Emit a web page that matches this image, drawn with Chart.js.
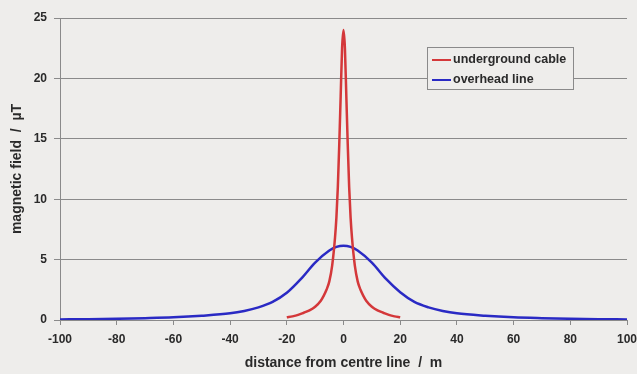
<!DOCTYPE html>
<html>
<head>
<meta charset="utf-8">
<script src="https://cdn.jsdelivr.net/npm/chart.js@4"></script>
<style>
html,body{margin:0;padding:0;background:#eeedeb;}
#wrap{width:637px;height:374px;position:relative;}
</style>
</head>
<body>
<div id="wrap"><canvas id="c" width="637" height="374"></canvas></div>
<script>
// ---- data ----
const seriesNames = ["underground cable", "overhead line"];
const xTicks = [-100, -80, -60, -40, -20, 0, 20, 40, 60, 80, 100];
const yTicks = [0, 5, 10, 15, 20, 25];

const cableX = [-20, -18, -16, -14, -12, -10, -8, -7, -6, -5, -4, -3, -2.5, -2, -1.5, -1, -0.5, 0, 0.5, 1, 1.5, 2, 2.5, 3, 4, 5, 6, 7, 8, 10, 12, 14, 16, 18, 20];
const cableY = [0.22, 0.3, 0.42, 0.6, 0.8, 1.1, 1.6, 2.0, 2.5, 3.2, 4.5, 6.8, 8.5, 11, 14.5, 18.5, 22.5, 24, 22.5, 18.5, 14.5, 11, 8.5, 6.8, 4.5, 3.2, 2.5, 2.0, 1.6, 1.1, 0.8, 0.6, 0.42, 0.3, 0.22];

const lineX = [-100, -90, -80, -70, -60, -50, -40, -35, -30, -25, -20, -15, -10, -5, -2.5, 0, 2.5, 5, 10, 15, 20, 25, 30, 35, 40, 50, 60, 70, 80, 90, 100];
const lineY = [0.05, 0.07, 0.1, 0.15, 0.22, 0.35, 0.55, 0.75, 1.05, 1.5, 2.25, 3.4, 4.75, 5.75, 6.05, 6.15, 6.05, 5.75, 4.75, 3.4, 2.3, 1.5, 1.05, 0.75, 0.55, 0.35, 0.22, 0.15, 0.1, 0.07, 0.05];

const axisTitleX = "distance from centre line  /  m";
const axisTitleY = "magnetic field  /  µT";

const toPts = (xs, ys) => xs.map((x, i) => ({x: x, y: ys[i]}));

const FONT = "'Liberation Sans', Arial, sans-serif";
const BG = "#eeedeb";
const TXT = "#2a2a2a";

const bgPlugin = {
  id: 'bg',
  beforeDraw(chart) {
    const ctx = chart.ctx;
    ctx.save();
    ctx.fillStyle = BG;
    ctx.fillRect(0, 0, chart.width, chart.height);
    ctx.restore();
  }
};

const legendBox = {
  id: 'legendBox',
  afterDatasetsDraw(chart) {
    const ctx = chart.ctx;
    const x0 = 427, y0 = 47, w = 146, h = 42;
    ctx.save();
    ctx.fillStyle = BG;
    ctx.fillRect(x0, y0, w, h);
    ctx.strokeStyle = "#8a8a8a";
    ctx.lineWidth = 1;
    ctx.strokeRect(x0 + 0.5, y0 + 0.5, w, h);
    ctx.font = "bold 12.5px " + FONT;
    ctx.textBaseline = "middle";
    ctx.textAlign = "left";
    chart.data.datasets.forEach((ds, i) => {
      const yy = y0 + 13 + i * 20;
      ctx.strokeStyle = ds.borderColor;
      ctx.lineWidth = 2;
      ctx.beginPath();
      ctx.moveTo(x0 + 5, yy);
      ctx.lineTo(x0 + 24, yy);
      ctx.stroke();
      ctx.fillStyle = TXT;
      ctx.fillText(ds.label, x0 + 26, yy);
    });
    ctx.restore();
  }
};

new Chart(document.getElementById('c'), {
  type: 'line',
  data: {
    datasets: [
      {
        label: seriesNames[0],
        data: toPts(cableX, cableY),
        borderColor: "#d4383a",
        borderWidth: 2.5,
        pointRadius: 0,
        cubicInterpolationMode: 'monotone',
        fill: false
      },
      {
        label: seriesNames[1],
        data: toPts(lineX, lineY),
        borderColor: "#2a2ac4",
        borderWidth: 2.5,
        pointRadius: 0,
        cubicInterpolationMode: 'monotone',
        fill: false
      }
    ]
  },
  options: {
    responsive: false,
    animation: false,
    events: [],
    layout: { padding: { top: 18, right: 10, left: 0, bottom: 0 } },
    plugins: {
      legend: { display: false },
      tooltip: { enabled: false }
    },
    scales: {
      x: {
        type: 'linear',
        min: -100, max: 100,
        afterBuildTicks: s => { s.ticks = xTicks.map(v => ({value: v})); },
        afterFit: s => { s.height = 54; s.paddingLeft = 0; s.paddingRight = 0; },
        grid: { display: true, drawOnChartArea: false, drawTicks: true, tickLength: 5, color: "#8a8a8a" },
        border: { display: true, color: "#8a8a8a", width: 1 },
        ticks: { font: { family: FONT, size: 12, weight: 'bold' }, color: TXT, padding: 7, maxRotation: 0, autoSkip: false },
        title: { display: true, text: axisTitleX, font: { family: FONT, size: 14, weight: 'bold' }, color: TXT, padding: { top: 0, bottom: 2 } }
      },
      y: {
        type: 'linear',
        min: 0, max: 25,
        afterBuildTicks: s => { s.ticks = yTicks.map(v => ({value: v})); },
        afterFit: s => { s.width = 60; s.paddingTop = 0; s.paddingBottom = 0; },
        grid: { display: true, drawOnChartArea: true, drawTicks: true, tickLength: 6, color: "#8a8a8a" },
        border: { display: true, color: "#8a8a8a", width: 1 },
        ticks: { font: { family: FONT, size: 12, weight: 'bold' }, color: TXT, padding: 7 },
        title: { display: true, text: axisTitleY, font: { family: FONT, size: 14, weight: 'bold' }, color: TXT, padding: { top: 9, bottom: 0 } }
      }
    }
  },
  plugins: [bgPlugin, legendBox]
});
</script>
</body>
</html>
